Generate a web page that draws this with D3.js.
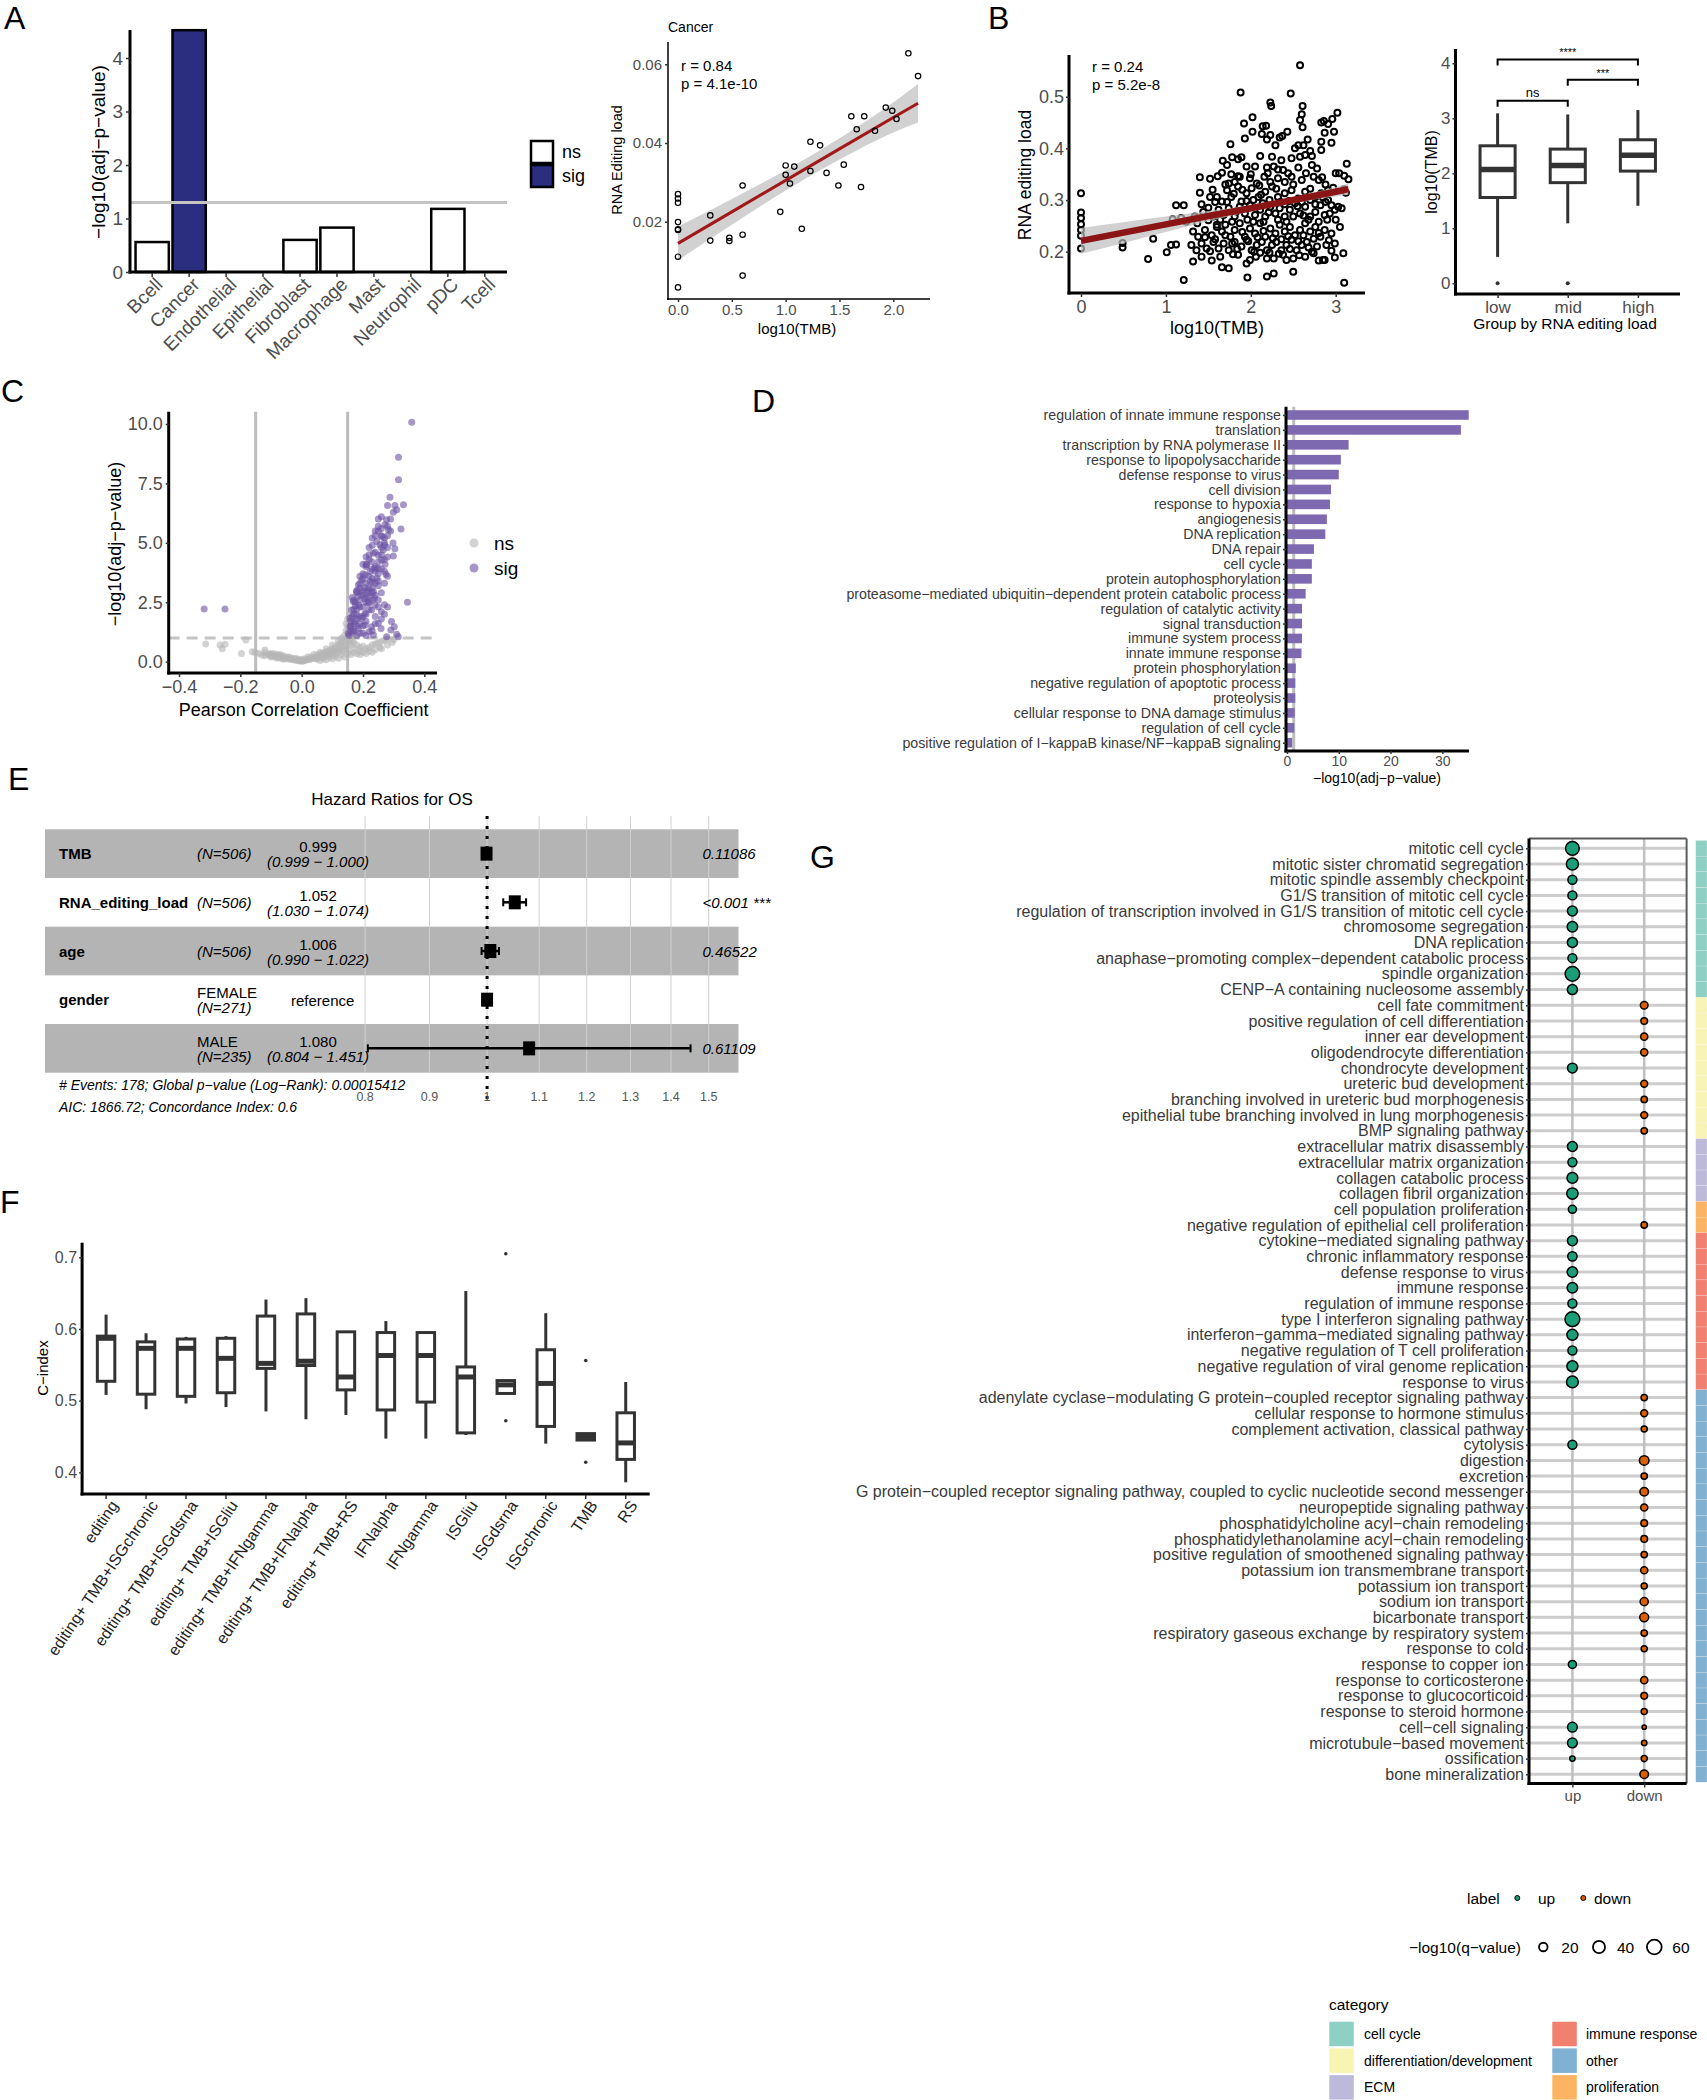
<!DOCTYPE html>
<html>
<head>
<meta charset="utf-8">
<script src="https://cdn.jsdelivr.net/npm/d3@7"></script>
<style>
  body { margin: 0; background: #fff; }
  svg { font-family: "Liberation Sans", Arial, Helvetica, sans-serif; }
</style>
</head>
<body>
<div id="fig"></div>
<script>
// ---------------- data ----------------
// A: cell type association
const cellTypes = ["Bcell", "Cancer", "Endothelial", "Epithelial", "Fibroblast", "Macrophage", "Mast", "Neutrophil", "pDC", "Tcell"];
const cellNegLogP = [0.56, 4.52, 0, 0, 0.60, 0.83, 0, 0, 1.18, 0];
const cellSig = ["ns", "sig", "ns", "ns", "ns", "ns", "ns", "ns", "ns", "ns"];
const cellThreshold = 1.3;

// A: cancer scatter  [log10(TMB), RNA editing load]
const cancerPts = [[2.14,0.0628],[2.23,0.0570],[1.93,0.0490],[1.99,0.0482],[2.03,0.0461],[1.61,0.0468],[1.73,0.0468],
  [1.66,0.0435],[1.83,0.0431],[1.23,0.0403],[1.32,0.0394],[1.00,0.0343],[1.08,0.0340],[1.54,0.0345],[1.00,0.0319],
  [1.23,0.0329],[1.38,0.0324],[1.04,0.0297],[1.49,0.0292],[1.70,0.0288],[0.60,0.0292],[0.95,0.0225],[1.15,0.0182],
  [0.30,0.0216],[0.30,0.0152],[0.477,0.0159],[0.477,0.0151],[0.60,0.0167],[0.60,0.0063],[0,0.0270],[0,0.0259],
  [0,0.0248],[0,0.0199],[0,0.0181],[0,0.0179],[0,0.0111],[0,0.0033]];
const cancerFitX = [0, 0.5, 1.0, 1.5, 2.0, 2.23];
const cancerFitY = [0.0145, 0.0225, 0.0305, 0.0385, 0.0465, 0.0501];
const cancerFitSE = [0.0043, 0.0033, 0.0026, 0.0027, 0.0038, 0.0049];

// B: TCGA scatter [log10(TMB), RNA editing load]
const tcgaPts = [[2.58,0.561],[1.88,0.508],[2.47,0.506],[2.23,0.489],[2.24,0.482],[2.61,0.482],[2.60,0.466],[2.58,0.455],
  [2.61,0.441],[3.02,0.469],[2.96,0.457],[2.91,0.447],[2.86,0.453],[2.83,0.450],[2.02,0.460],[1.92,0.448],[2.14,0.443],
  [2.18,0.444],[2.13,0.428],[2.02,0.432],[1.93,0.419],[2.43,0.432],[2.37,0.424],[2.34,0.421],[2.23,0.426],[2.19,0.417],
  [2.29,0.406],[2.67,0.417],[2.56,0.406],[2.52,0.400],[2.62,0.406],[2.70,0.395],[2.64,0.387],[2.72,0.385],[2.58,0.384],
  [2.83,0.413],[2.87,0.430],[2.98,0.432],[2.83,0.397],[2.95,0.411],[1.76,0.408],[1.67,0.376],[1.78,0.383],[1.85,0.379],
  [1.89,0.383],[2.11,0.385],[2.25,0.384],[2.36,0.377],[2.48,0.381],[1.72,0.368],[1.66,0.353],[1.77,0.350],[1.85,0.346],
  [1.95,0.365],[2.05,0.365],[2.19,0.363],[2.27,0.365],[2.32,0.359],[2.38,0.358],[2.56,0.363],[2.72,0.368],[2.78,0.361],
  [3.13,0.370],[3.04,0.352],[3.10,0.347],[3.15,0.340],[3.00,0.352],[1.40,0.344],[1.52,0.341],[1.61,0.346],[1.74,0.332],
  [1.81,0.335],[1.87,0.345],[1.99,0.342],[2.07,0.332],[2.16,0.345],[2.23,0.335],[2.32,0.342],[2.40,0.335],[2.48,0.345],
  [2.60,0.339],[2.74,0.345],[2.80,0.339],[2.84,0.344],[2.97,0.324],[2.91,0.319],[3.10,0.321],[3.12,0.314],
  [1.40,0.314],[1.42,0.292],[1.52,0.306],[1.60,0.306],[1.66,0.297],[1.72,0.319],[1.77,0.306],[1.85,0.326],[1.89,0.297],
  [1.95,0.313],[2.01,0.323],[2.09,0.306],[2.17,0.316],[2.25,0.326],[2.32,0.306],[2.40,0.313],[2.48,0.319],[2.56,0.303],
  [2.64,0.316],[2.70,0.300],[2.76,0.306],[2.83,0.313],[2.91,0.300],[2.95,0.290],[3.03,0.287],
  [1.34,0.268],[1.37,0.255],[1.44,0.277],[1.50,0.261],[1.56,0.268],[1.62,0.281],[1.68,0.271],[1.74,0.284],[1.81,0.268],
  [1.87,0.287],[1.93,0.274],[1.99,0.290],[2.05,0.271],[2.11,0.281],[2.17,0.268],[2.23,0.287],[2.29,0.274],[2.34,0.284],
  [2.40,0.268],[2.46,0.281],[2.52,0.294],[2.58,0.274],[2.64,0.287],[2.70,0.268],[2.76,0.277],[2.82,0.290],[2.87,0.271],
  [2.93,0.274],[2.99,0.281],[3.07,0.284],
  [1.32,0.239],[1.38,0.229],[1.46,0.242],[1.54,0.232],[1.60,0.248],[1.66,0.239],[1.70,0.252],[1.76,0.229],[1.81,0.242],
  [1.87,0.255],[1.93,0.229],[1.99,0.245],[2.05,0.235],[2.11,0.255],[2.17,0.229],[2.23,0.245],[2.29,0.235],[2.34,0.252],
  [2.40,0.239],[2.46,0.248],[2.52,0.232],[2.58,0.242],[2.64,0.255],[2.70,0.239],[2.76,0.248],[2.82,0.229],[2.87,0.242],
  [2.95,0.235],[3.05,0.248],
  [1.30,0.213],[1.36,0.203],[1.42,0.216],[1.48,0.206],[1.56,0.219],[1.62,0.206],[1.68,0.216],[1.74,0.203],[1.81,0.219],
  [1.89,0.210],[1.95,0.223],[2.01,0.203],[2.07,0.213],[2.13,0.219],[2.19,0.203],[2.25,0.213],[2.30,0.219],[2.36,0.203],
  [2.42,0.213],[2.48,0.223],[2.54,0.203],[2.60,0.213],[2.66,0.219],[2.72,0.200],[2.78,0.210],[2.89,0.213],[2.99,0.216],
  [1.32,0.181],[1.42,0.190],[1.54,0.183],[1.64,0.190],[1.79,0.195],[1.85,0.194],[1.95,0.177],[1.99,0.184],[2.11,0.198],
  [2.19,0.187],[2.27,0.187],[2.38,0.194],[2.42,0.184],[2.50,0.187],[2.64,0.190],[2.74,0.197],[2.80,0.183],[2.87,0.184],
  [2.99,0.189],[3.09,0.197],[1.66,0.170],[1.74,0.168],[1.96,0.150],[2.19,0.152],[2.27,0.158],[2.50,0.161],[2.85,0.184],
  [1.21,0.145],[3.10,0.140],
  [0,0.313],[0,0.276],[0,0.265],[0,0.253],[0,0.242],[0,0.231],[0,0.206],[0.49,0.217],[0.49,0.208],[0.79,0.186],
  [0.85,0.225],[1.01,0.199],[1.06,0.213],[1.12,0.214],[1.08,0.263],[1.12,0.290],[1.21,0.290],[1.18,0.265],[1.24,0.258],
  [1.70,0.330],[1.90,0.320],[2.10,0.328],[2.30,0.322],[2.50,0.330],[2.70,0.322],[2.88,0.330],
  [1.64,0.262],[1.83,0.278],[2.03,0.258],[2.21,0.276],[2.42,0.258],[2.62,0.270],[2.80,0.258],[3.00,0.262],
  [1.58,0.224],[1.78,0.216],[1.97,0.220],[2.15,0.240],[2.36,0.224],[2.56,0.220],[2.74,0.225],[2.92,0.222],
  [1.72,0.296],[1.95,0.298],[2.14,0.294],[2.35,0.296],[2.55,0.288],[2.76,0.292],[1.50,0.285],[1.46,0.228],[1.52,0.201],
  [2.06,0.190],[2.33,0.196],[2.57,0.193],[2.95,0.202],[2.00,0.350],[2.20,0.352],[2.44,0.352],[2.65,0.352],[1.55,0.320],
  [2.12,0.310],[2.45,0.298],[2.85,0.305],
  [1.58,0.296],[1.80,0.312],[2.03,0.300],[2.22,0.300],[2.40,0.292],[2.60,0.296],[2.88,0.296],[1.60,0.252],[1.78,0.258],
  [1.96,0.262],[2.15,0.258],[2.32,0.262],[2.50,0.268],[2.68,0.262],[2.90,0.262],[1.70,0.232],[1.90,0.238],[2.08,0.228],
  [2.26,0.226],[2.44,0.230],[2.62,0.232],[2.80,0.236],[1.84,0.205],[2.04,0.200],[2.22,0.198],[2.46,0.205],[2.68,0.208]];
const tcgaFitX = [0, 0.5, 1, 1.5, 2, 2.5, 3, 3.15];
const tcgaFitY = [0.221, 0.237, 0.253, 0.269, 0.284, 0.300, 0.316, 0.321];
const tcgaFitSE = [0.025, 0.020, 0.015, 0.010, 0.006, 0.006, 0.009, 0.011];

// B: boxplot by editing-load group (log10 TMB)
const loadGroups = ["low", "mid", "high"];
const grpMin = [0.48, 1.09, 1.41];
const grpQ1 = [1.56, 1.83, 2.04];
const grpMed = [2.07, 2.14, 2.33];
const grpQ3 = [2.50, 2.44, 2.61];
const grpMax = [3.09, 3.07, 3.15];
const grpOutliers = [[0], [0], []];
const bracketPairs = [["low", "mid"], ["mid", "high"], ["low", "high"]];
const bracketY = [3.32, 3.70, 4.07];
const bracketLabels = ["ns", "***", "****"];

// C: volcano [pearson r, -log10 adj p]
const volcanoSig = [[0.359,10.07],[0.316,8.6],[0.316,7.65],[0.288,6.92],[0.280,6.57],[0.304,6.57],[0.332,6.6],[0.310,6.39],
  [0.299,6.29],[0.277,5.97],[0.272,5.76],[0.283,5.55],[0.324,5.58],[0.25,5.5],[0.261,5.27],[0.245,5.06],[0.255,4.92],
  [0.266,4.7],[0.25,4.49],[0.234,4.56],[0.261,4.28],[0.298,4.99],[0.304,4.75],[0.299,4.45],[0.228,4.21],[0.212,4.07],
  [0.239,3.93],[0.223,3.79],[0.207,3.65],[0.25,3.93],[0.272,4.1],[0.275,3.68],[0.196,3.44],[0.185,3.23],[0.207,3.12],
  [0.179,2.95],[0.196,2.81],[0.217,2.74],[0.234,2.95],[0.223,3.37],[0.245,3.51],[0.168,2.53],[0.185,2.39],[0.163,2.18],
  [0.179,1.97],[0.158,1.83],[0.174,1.69],[0.196,1.83],[0.207,2.04],[0.228,2.18],[0.239,2.39],[0.217,2.46],[0.237,2.67],
  [0.158,1.47],[0.168,1.26],[0.152,1.19],[0.185,1.40],[0.207,1.54],[0.228,1.47],[0.25,1.62],[0.259,1.40],[0.234,1.12],
  [0.22,1.26],[0.293,1.69],[0.302,1.47],[0.291,1.33],[0.31,1.15],[0.315,1.05],[0.277,1.05],[0.345,2.5],[-0.318,2.22],
  [-0.25,2.22],[0.17,2.0],[0.18,2.2],[0.19,2.6],[0.2,2.9],[0.21,3.3],[0.22,3.6],[0.2,3.0],[0.18,1.8],[0.19,1.6],[0.2,1.9],
  [0.22,2.2],[0.24,2.8],[0.23,3.1],[0.25,3.7],[0.24,4.0],[0.26,4.5],[0.27,5.0],[0.26,5.3],[0.23,2.6],[0.21,2.5],[0.19,2.3],
  [0.17,1.6],[0.16,1.3],[0.18,1.1],[0.2,1.2],[0.21,1.7],[0.24,1.9],[0.26,2.1],[0.27,2.4],[0.25,2.3],[0.22,2.9],[0.25,3.2],
  [0.27,3.8],[0.28,4.4],[0.23,3.9],[0.22,4.3],[0.24,4.6],[0.27,4.9],[0.28,5.3],[0.29,6.0],[0.26,5.6],[0.21,4.0],[0.2,3.5],
  [0.165,2.7],[0.175,2.35],[0.185,2.75],[0.19,3.1],[0.205,2.65],[0.215,3.0],[0.23,3.35],
  [0.155,1.1],[0.16,1.5],[0.165,1.9],[0.17,2.2],[0.175,2.5],[0.18,2.9],[0.19,3.3],[0.2,3.7],[0.21,4.1],[0.22,4.5],
  [0.23,4.9],[0.24,5.3],[0.25,5.7],[0.26,6.1],[0.17,1.3],[0.18,1.5],[0.19,1.9],[0.2,2.3],[0.21,2.7],[0.22,3.1],[0.23,3.5],
  [0.24,3.8],[0.25,4.2],[0.26,4.8],[0.27,5.2],[0.28,5.7],[0.19,1.2],[0.2,1.5],[0.21,2.0],[0.22,2.5],[0.23,2.9],[0.24,3.3],
  [0.25,3.4],[0.26,3.9],[0.27,4.3],[0.28,4.8],[0.29,5.5],[0.16,1.7],[0.17,2.6],[0.18,3.0],[0.19,3.6],[0.2,4.1],[0.21,4.4],
  [0.22,4.8],[0.23,5.2],[0.24,5.5],[0.25,6.0],[0.21,1.1],[0.23,1.3],[0.24,1.6],[0.26,1.8],[0.27,2.0],[0.28,2.3],[0.25,2.6],
  [0.26,2.9],[0.27,3.3],[0.28,3.6]];
const volcanoNs = [[-0.313,0.74],[-0.266,0.70],[-0.259,0.55],[-0.25,0.73],[-0.182,0.91],[-0.196,0.35],[-0.161,0.42],
  [-0.152,0.39],[-0.14,0.35],[-0.13,0.28],[-0.12,0.49],[-0.11,0.30],[-0.10,0.26],[-0.095,0.22],[-0.09,0.28],[-0.085,0.20],
  [-0.08,0.24],[-0.075,0.18],[-0.07,0.22],[-0.065,0.15],[-0.06,0.19],[-0.055,0.13],[-0.05,0.16],[-0.045,0.11],[-0.04,0.14],
  [-0.035,0.09],[-0.03,0.11],[-0.025,0.07],[-0.02,0.08],[-0.015,0.05],[-0.01,0.04],[-0.005,0.03],[0,0.02],[0.005,0.03],
  [0.01,0.05],[0.015,0.07],[0.02,0.10],[0.025,0.08],[0.03,0.14],[0.035,0.12],[0.04,0.18],[0.045,0.15],[0.05,0.22],
  [0.055,0.19],[0.06,0.27],[0.065,0.23],[0.07,0.31],[0.075,0.28],[0.08,0.36],[0.085,0.32],[0.09,0.42],[0.095,0.37],
  [0.10,0.48],[0.105,0.42],[0.11,0.55],[0.115,0.48],[0.12,0.62],[0.125,0.54],[0.13,0.72],[0.135,0.62],[0.14,0.85],
  [0.145,0.70],[0.15,1.0],[0.155,0.80],[0.16,1.2],[0.165,0.9],[0.17,0.8],[0.18,0.7],[0.19,0.6],[0.2,0.65],[0.21,0.55],
  [0.22,0.6],[0.23,0.7],[0.24,0.75],[0.25,0.8],[0.26,0.85],[0.27,0.9],[0.255,0.6],[0.3,0.92],[0.28,0.95],[0.295,0.82],
  [0.05,0.1],[0.07,0.18],[0.09,0.25],[0.11,0.35],[0.13,0.45],[0.15,0.55],[0.17,0.55],[0.19,0.45],[0.14,1.1],[0.15,1.5],
  [0.155,1.9],[0.145,1.3],[0.16,1.6],[0.13,1.0],[0.12,0.85],[0.1,0.7],[0.08,0.55],[0.06,0.4],[0.04,0.3],[0.02,0.2],
  [0.0,0.1],[-0.02,0.15],[-0.04,0.2],[-0.06,0.25],[-0.08,0.3],[-0.1,0.35],[-0.105,0.32],[-0.12,0.38],[-0.07,0.3],
  [0.06,0.05],[0.08,0.08],[0.1,0.12],[0.12,0.15],[0.14,0.2],[0.16,0.3],[0.18,0.35],[0.2,0.4],[0.22,0.45],[0.24,0.5],
  [0.26,0.55],[0.28,0.7],[0.07,0.12],[0.09,0.18],[0.11,0.22],[0.13,0.3],[0.15,0.35],[0.17,0.4],[0.19,0.3],[0.21,0.35],
  [0.23,0.4],[0.1,0.3],[0.12,0.4],[0.14,0.5],[0.16,0.7],[0.155,1.05],[0.15,1.25],[0.14,0.95],[0.13,0.85],[0.12,0.72],
  [0.11,0.62],[0.1,0.55],[0.09,0.48],[0.08,0.42],[0.07,0.36],[0.06,0.32],[0.05,0.28],[0.03,0.2],[0.01,0.12],[-0.01,0.1],
  [-0.03,0.15],[-0.05,0.2],[-0.07,0.25],[-0.09,0.33],[-0.06,0.1],[-0.08,0.15],[-0.1,0.2],[-0.12,0.25],[0.145,1.6],
  [0.15,1.8],[0.155,1.4],[0.16,1.0],[0.17,1.1],[0.165,1.3]];

// D: GO enrichment bars
const goTermsD = ["regulation of innate immune response", "translation", "transcription by RNA polymerase II",
  "response to lipopolysaccharide", "defense response to virus", "cell division", "response to hypoxia", "angiogenesis",
  "DNA replication", "DNA repair", "cell cycle", "protein autophosphorylation",
  "proteasome−mediated ubiquitin−dependent protein catabolic process", "regulation of catalytic activity",
  "signal transduction", "immune system process", "innate immune response", "protein phosphorylation",
  "negative regulation of apoptotic process", "proteolysis", "cellular response to DNA damage stimulus",
  "regulation of cell cycle", "positive regulation of I−kappaB kinase/NF−kappaB signaling"];
const goNegLogD = [35.1, 33.6, 11.9, 10.4, 10.0, 8.5, 8.3, 7.7, 7.4, 5.2, 4.8, 4.8, 3.6, 2.9, 2.9, 2.9, 2.8, 1.7, 1.6, 1.6, 1.5, 1.4, 1.0];

// E: Cox model
const hrVar = ["TMB", "RNA_editing_load", "age", "gender", ""];
const hrLevel = ["", "", "", "FEMALE", "MALE"];
const hrN = [506, 506, 506, 271, 235];
const hrEst = [0.999, 1.052, 1.006, 1, 1.080];
const hrLo = [0.999, 1.030, 0.990, null, 0.804];
const hrHi = [1.000, 1.074, 1.022, null, 1.451];
const hrP = ["0.11086", "<0.001 ***", "0.46522", "", "0.61109"];
const hrTicks = [0.8, 0.9, 1, 1.1, 1.2, 1.3, 1.4, 1.5];

// F: C-index boxplots
const models = ["editing", "editing+ TMB+ISGchronic", "editing+ TMB+ISGdsrna", "editing+ TMB+ISGliu",
  "editing+ TMB+IFNgamma", "editing+ TMB+IFNalpha", "editing+ TMB+RS", "IFNalpha", "IFNgamma", "ISGliu",
  "ISGdsrna", "ISGchronic", "TMB", "RS"];
const cMin = [0.508, 0.488, 0.496, 0.491, 0.485, 0.474, 0.480, 0.447, 0.447, 0.452, 0.510, 0.440, 0.445, 0.386];
const cQ1  = [0.527, 0.509, 0.506, 0.511, 0.545, 0.549, 0.515, 0.487, 0.498, 0.455, 0.510, 0.464, 0.445, 0.418];
const cMed = [0.587, 0.573, 0.573, 0.559, 0.552, 0.555, 0.533, 0.563, 0.563, 0.533, 0.522, 0.524, 0.450, 0.441];
const cQ3  = [0.590, 0.582, 0.586, 0.587, 0.618, 0.621, 0.596, 0.595, 0.595, 0.547, 0.528, 0.571, 0.454, 0.483];
const cMax = [0.620, 0.594, 0.589, 0.590, 0.641, 0.643, 0.596, 0.611, 0.595, 0.653, 0.528, 0.622, 0.454, 0.526];
const cOut = [[], [], [], [], [], [], [], [], [], [], [0.705, 0.472], [], [0.556, 0.414], []];

// G: GO terms up / down
const goCellCycle = ["mitotic cell cycle", "mitotic sister chromatid segregation", "mitotic spindle assembly checkpoint",
  "G1/S transition of mitotic cell cycle", "regulation of transcription involved in G1/S transition of mitotic cell cycle",
  "chromosome segregation", "DNA replication", "anaphase−promoting complex−dependent catabolic process",
  "spindle organization", "CENP−A containing nucleosome assembly"];
const goDiff = ["cell fate commitment", "positive regulation of cell differentiation", "inner ear development",
  "oligodendrocyte differentiation", "chondrocyte development", "ureteric bud development",
  "branching involved in ureteric bud morphogenesis", "epithelial tube branching involved in lung morphogenesis",
  "BMP signaling pathway"];
const goECM = ["extracellular matrix disassembly", "extracellular matrix organization", "collagen catabolic process",
  "collagen fibril organization"];
const goProlif = ["cell population proliferation", "negative regulation of epithelial cell proliferation"];
const goImmune = ["cytokine−mediated signaling pathway", "chronic inflammatory response", "defense response to virus",
  "immune response", "regulation of immune response", "type I interferon signaling pathway",
  "interferon−gamma−mediated signaling pathway", "negative regulation of T cell proliferation",
  "negative regulation of viral genome replication", "response to virus"];
const goOther = ["adenylate cyclase−modulating G protein−coupled receptor signaling pathway",
  "cellular response to hormone stimulus", "complement activation, classical pathway", "cytolysis", "digestion",
  "excretion", "G protein−coupled receptor signaling pathway, coupled to cyclic nucleotide second messenger",
  "neuropeptide signaling pathway", "phosphatidylcholine acyl−chain remodeling",
  "phosphatidylethanolamine acyl−chain remodeling", "positive regulation of smoothened signaling pathway",
  "potassium ion transmembrane transport", "potassium ion transport", "sodium ion transport", "bicarbonate transport",
  "respiratory gaseous exchange by respiratory system", "response to cold", "response to copper ion",
  "response to corticosterone", "response to glucocorticoid", "response to steroid hormone", "cell−cell signaling",
  "microtubule−based movement", "ossification", "bone mineralization"];
const goUp = [52, 40, 22, 22, 27, 30, 28, 22, 58, 28,
  null, null, null, null, 26, null, null, null, null,
  27, 22, 32, 35,
  18, null,
  27, 24, 30, 30, 22, 60, 33, 22, 33, 38,
  null, null, null, 22, null, null, null, null, null, null, null, null, null, null, null, null, null, 18, null, null, null, 26, 26, 8, null];
const goDown = [null, null, null, null, null, null, null, null, null, null,
  16, 12, 14, 14, null, 13, 11, 13, 11,
  null, null, null, null,
  null, 11,
  null, null, null, null, null, null, null, null, null, null,
  11, 13, 10, null, 25, 11, 20, 14, 12, 12, 11, 14, 10, 18, 22, 11, 10, null, 14, 12, 10, 5, 8, 10, 20];
const catNames = ["cell cycle", "differentiation/development", "ECM", "immune response", "other", "proliferation"];
const catColors = ["#8ed1c4", "#f8f4b4", "#bdb9da", "#f1806f", "#80b1d3", "#fdb462"];
const sizeBreaks = [20, 40, 60];

// ---------------- helpers ----------------
const GREY = "#4d4d4d";
const svg = d3.select("#fig").append("svg")
  .attr("width", 1707).attr("height", 2100)
  .style("background", "#fff");
svg.append("rect").attr("width", 1707).attr("height", 2100).attr("fill", "#fff");

function txt(g, x, y, s, o = {}) {
  const t = g.append("text").attr("x", x).attr("y", y).text(s)
    .attr("font-size", o.size || 14).attr("fill", o.fill || "#000")
    .attr("text-anchor", o.anchor || "start")
    .attr("dominant-baseline", "central");
  if (o.italic) t.attr("font-style", "italic");
  if (o.bold) t.attr("font-weight", "bold");
  if (o.rotate) t.attr("transform", `rotate(${o.rotate},${x},${y})`);
  return t;
}
function seg(g, x1, y1, x2, y2, stroke, w, dash) {
  const l = g.append("line").attr("x1", x1).attr("y1", y1).attr("x2", x2).attr("y2", y2)
    .attr("stroke", stroke).attr("stroke-width", w);
  if (dash) l.attr("stroke-dasharray", dash);
  return l;
}
function styleAxis(ax, size, fill = GREY) {
  ax.select(".domain").remove();
  ax.selectAll(".tick line").attr("stroke", "#333").attr("stroke-width", 1.5);
  ax.selectAll(".tick text").attr("font-size", size).attr("fill", fill)
    .attr("font-family", '"Liberation Sans", Arial, Helvetica, sans-serif');
}
function letter(x, y, s) { txt(svg, x, y, s, { size: 32 }); }

// ---------------- panel A: bars ----------------
letter(4, 18, "A");
{
  const g = svg.append("g");
  const x = d3.scalePoint().domain(cellTypes).range([130, 507]).padding(0.6);
  const y = d3.scaleLinear().domain([0, 4]).range([272, 58]);
  const bw = x.step() * 0.9;
  g.selectAll("rect.bar").data(cellTypes).join("rect")
    .attr("x", d => x(d) - bw / 2).attr("width", bw)
    .attr("y", (d, i) => y(cellNegLogP[i]))
    .attr("height", (d, i) => y(0) - y(cellNegLogP[i]))
    .attr("fill", (d, i) => cellSig[i] === "sig" ? "#2b2d7e" : "#fff")
    .attr("stroke", "#000").attr("stroke-width", 2.5);
  seg(g, 130, y(cellThreshold), 507, y(cellThreshold), "#c4c4c4", 3);
  seg(g, 130, 30, 130, 273.5, "#000", 3);
  seg(g, 128.5, 272, 507, 272, "#000", 3);
  const ay = g.append("g").attr("transform", "translate(130,0)")
    .call(d3.axisLeft(y).tickValues([0, 1, 2, 3, 4]).tickFormat(d3.format("d")).tickSize(4).tickPadding(3));
  styleAxis(ay, 19);
  g.selectAll("text.xl").data(cellTypes).join("text")
    .attr("transform", d => `translate(${x(d) + 2},${276}) rotate(-45)`)
    .attr("text-anchor", "end").attr("dy", "0.72em")
    .attr("font-size", 19).attr("fill", GREY).text(d => d);
  g.selectAll("line.xt").data(cellTypes).join("line")
    .attr("x1", d => x(d)).attr("x2", d => x(d)).attr("y1", 273).attr("y2", 277)
    .attr("stroke", "#333").attr("stroke-width", 1.5);
  txt(g, 98, 152, "−log10(adj−p−value)", { size: 19, anchor: "middle", rotate: -90 });
  // legend
  ["ns", "sig"].forEach((k, i) => {
    g.append("rect").attr("x", 531).attr("y", 141 + i * 24).attr("width", 22).attr("height", 22)
      .attr("fill", k === "sig" ? "#2b2d7e" : "#fff").attr("stroke", "#000").attr("stroke-width", 2.5);
    txt(g, 562, 152 + i * 24, k, { size: 18 });
  });
}

// ---------------- panel A: cancer scatter ----------------
{
  const g = svg.append("g");
  const x = d3.scaleLinear().domain([0, 2]).range([678, 893.3]);
  const y = d3.scaleLinear().domain([0.02, 0.06]).range([221.7, 64.3]);
  const band = d3.area().x((d, i) => x(cancerFitX[i]))
    .y0((d, i) => y(cancerFitY[i] - cancerFitSE[i])).y1((d, i) => y(cancerFitY[i] + cancerFitSE[i]))
    .curve(d3.curveMonotoneX);
  g.append("path").datum(cancerFitX).attr("d", band).attr("fill", "#c9c9c9").attr("opacity", 0.85);
  g.append("path").datum(cancerFitX)
    .attr("d", d3.line().x((d, i) => x(cancerFitX[i])).y((d, i) => y(cancerFitY[i])))
    .attr("fill", "none").attr("stroke", "#a01818").attr("stroke-width", 3);
  g.selectAll("circle").data(cancerPts).join("circle")
    .attr("cx", d => x(d[0])).attr("cy", d => y(d[1])).attr("r", 2.7)
    .attr("fill", "none").attr("stroke", "#000").attr("stroke-width", 1.2);
  seg(g, 668, 42, 668, 300, "#000", 1.5);
  seg(g, 667, 299, 930, 299, "#000", 1.5);
  const ay = g.append("g").attr("transform", "translate(668,0)")
    .call(d3.axisLeft(y).tickValues([0.02, 0.04, 0.06]).tickFormat(d3.format(".2f")).tickSize(3).tickPadding(3));
  styleAxis(ay, 15);
  const ax = g.append("g").attr("transform", "translate(0,299)")
    .call(d3.axisBottom(x).tickValues([0, 0.5, 1, 1.5, 2]).tickFormat(d3.format(".1f")).tickSize(3).tickPadding(2));
  styleAxis(ax, 15);
  txt(g, 668, 27, "Cancer", { size: 14 });
  txt(g, 681, 65, "r = 0.84", { size: 15 });
  txt(g, 681, 83, "p = 4.1e-10", { size: 15 });
  txt(g, 617, 160, "RNA Editing load", { size: 14.5, anchor: "middle", rotate: -90 });
  txt(g, 797, 328, "log10(TMB)", { size: 15, anchor: "middle" });
}

// ---------------- panel B: TCGA scatter ----------------
letter(988, 18, "B");
{
  const g = svg.append("g");
  const x = d3.scaleLinear().domain([0, 3]).range([1081, 1335.7]);
  const y = d3.scaleLinear().domain([0.2, 0.5]).range([251.7, 96.7]);
  g.selectAll("circle").data(tcgaPts).join("circle")
    .attr("cx", d => x(d[0])).attr("cy", d => y(d[1])).attr("r", 3)
    .attr("fill", "none").attr("stroke", "#000").attr("stroke-width", 2);
  const band = d3.area().x((d, i) => x(tcgaFitX[i]))
    .y0((d, i) => y(tcgaFitY[i] - tcgaFitSE[i])).y1((d, i) => y(tcgaFitY[i] + tcgaFitSE[i]))
    .curve(d3.curveMonotoneX);
  g.append("path").datum(tcgaFitX).attr("d", band).attr("fill", "#bdbdbd").attr("opacity", 0.7);
  g.append("path").datum(tcgaFitX)
    .attr("d", d3.line().x((d, i) => x(tcgaFitX[i])).y((d, i) => y(tcgaFitY[i])))
    .attr("fill", "none").attr("stroke", "#8b1515").attr("stroke-width", 6.5);
  seg(g, 1069, 55, 1069, 294.5, "#000", 3);
  seg(g, 1067.5, 293, 1365, 293, "#000", 3);
  const ay = g.append("g").attr("transform", "translate(1069,0)")
    .call(d3.axisLeft(y).tickValues([0.2, 0.3, 0.4, 0.5]).tickFormat(d3.format(".1f")).tickSize(3).tickPadding(2));
  styleAxis(ay, 18);
  const ax = g.append("g").attr("transform", "translate(0,293)")
    .call(d3.axisBottom(x).tickValues([0, 1, 2, 3]).tickFormat(d3.format("d")).tickSize(4).tickPadding(3));
  styleAxis(ax, 18);
  txt(g, 1092, 66, "r = 0.24", { size: 15 });
  txt(g, 1092, 84, "p = 5.2e-8", { size: 15 });
  txt(g, 1025, 175, "RNA editing load", { size: 17.5, anchor: "middle", rotate: -90 });
  txt(g, 1217, 328, "log10(TMB)", { size: 18, anchor: "middle" });
}

// ---------------- panel B: boxplot ----------------
{
  const g = svg.append("g");
  const x0 = 1455.5, x1 = 1680;
  const x = d3.scalePoint().domain(loadGroups).range([x0, x1]).padding(0.6);
  const y = d3.scaleLinear().domain([0, 4]).range([283.3, 63.3]);
  const bw = x.step() * 0.5;
  loadGroups.forEach((k, i) => {
    const cx = x(k);
    seg(g, cx, y(grpMax[i]), cx, y(grpQ3[i]), "#333", 3);
    seg(g, cx, y(grpQ1[i]), cx, y(grpMin[i]), "#333", 3);
    g.append("rect").attr("x", cx - bw / 2).attr("width", bw)
      .attr("y", y(grpQ3[i])).attr("height", y(grpQ1[i]) - y(grpQ3[i]))
      .attr("fill", "#fff").attr("stroke", "#333").attr("stroke-width", 3);
    seg(g, cx - bw / 2, y(grpMed[i]), cx + bw / 2, y(grpMed[i]), "#333", 5.5);
    grpOutliers[i].forEach(v => g.append("circle").attr("cx", cx).attr("cy", y(v)).attr("r", 2).attr("fill", "#333"));
  });
  bracketPairs.forEach((p, i) => {
    const xa = x(p[0]), xb = x(p[1]), yy = y(bracketY[i]);
    g.append("path").attr("d", `M${xa},${yy + 6}V${yy}H${xb}V${yy + 6}`)
      .attr("fill", "none").attr("stroke", "#000").attr("stroke-width", 2);
    txt(g, (xa + xb) / 2, yy - (bracketLabels[i] === "ns" ? 8 : 7), bracketLabels[i],
      { size: bracketLabels[i] === "ns" ? 13 : 11, anchor: "middle" });
  });
  seg(g, x0, 49, x0, 295.5, "#000", 3);
  seg(g, x0 - 1.5, 294, x1, 294, "#000", 3);
  const ay = g.append("g").attr("transform", `translate(${x0},0)`)
    .call(d3.axisLeft(y).tickValues([0, 1, 2, 3, 4]).tickFormat(d3.format("d")).tickSize(3).tickPadding(2));
  styleAxis(ay, 17);
  const ax = g.append("g").attr("transform", "translate(0,294)")
    .call(d3.axisBottom(x).tickSize(4).tickPadding(3));
  styleAxis(ax, 17);
  txt(g, 1431, 172, "log10(TMB)", { size: 16, anchor: "middle", rotate: -90 });
  txt(g, 1565, 323, "Group by RNA editing load", { size: 15.5, anchor: "middle" });
}

// ---------------- panel C: volcano ----------------
letter(1, 391, "C");
{
  const g = svg.append("g");
  const x = d3.scaleLinear().domain([-0.4, 0.4]).range([179, 424.3]);
  const y = d3.scaleLinear().domain([0, 10]).range([661.7, 424]);
  [-0.15, 0.15].forEach(v => seg(g, x(v), 411.7, x(v), 672, "#bdbdbd", 3));
  seg(g, 168.7, y(1), 437, y(1), "#c4c4c4", 3, "11,7");
  g.selectAll("circle.ns").data(volcanoNs).join("circle").attr("class", "ns")
    .attr("cx", d => x(d[0])).attr("cy", d => y(d[1])).attr("r", 3.5)
    .attr("fill", "#b5b5b5").attr("opacity", 0.6);
  g.selectAll("circle.sig").data(volcanoSig).join("circle").attr("class", "sig")
    .attr("cx", d => x(d[0])).attr("cy", d => y(d[1])).attr("r", 3.5)
    .attr("fill", "#6a51a3").attr("opacity", 0.6);
  seg(g, 168.7, 411.7, 168.7, 674.5, "#000", 3);
  seg(g, 167.2, 673, 437, 673, "#000", 3);
  const ay = g.append("g").attr("transform", "translate(168.7,0)")
    .call(d3.axisLeft(y).tickValues([0, 2.5, 5, 7.5, 10]).tickFormat(d3.format(".1f")).tickSize(3).tickPadding(3));
  styleAxis(ay, 18);
  const ax = g.append("g").attr("transform", "translate(0,673)")
    .call(d3.axisBottom(x).tickValues([-0.4, -0.2, 0, 0.2, 0.4]).tickFormat(d3.format(".1f")).tickSize(4).tickPadding(3));
  styleAxis(ax, 18);
  txt(g, 115, 544, "−log10(adj−p−value)", { size: 18, anchor: "middle", rotate: -90 });
  txt(g, 303.6, 710, "Pearson Correlation Coefficient", { size: 18, anchor: "middle" });
  g.append("circle").attr("cx", 474).attr("cy", 543).attr("r", 4.5).attr("fill", "#b5b5b5").attr("opacity", 0.6);
  g.append("circle").attr("cx", 474).attr("cy", 568).attr("r", 4.5).attr("fill", "#6a51a3").attr("opacity", 0.6);
  txt(g, 494, 543, "ns", { size: 19 });
  txt(g, 494, 568, "sig", { size: 19 });
}

// ---------------- panel D: GO bars ----------------
letter(752, 401, "D");
{
  const g = svg.append("g");
  const x = d3.scaleLinear().domain([0, 30]).range([1287, 1442.3]);
  const y = d3.scalePoint().domain(goTermsD).range([415, 742.7]);
  seg(g, x(1.3), 406.7, x(1.3), 751, "#bdbdbd", 3);
  g.selectAll("rect").data(goTermsD).join("rect")
    .attr("x", x(0)).attr("y", d => y(d) - 4.8).attr("height", 9.6)
    .attr("width", (d, i) => x(goNegLogD[i]) - x(0)).attr("fill", "#7d69b0");
  seg(g, 1286, 406.7, 1286, 752.5, "#000", 3);
  seg(g, 1284.5, 751, 1469, 751, "#000", 3);
  const ay = g.append("g").attr("transform", "translate(1286,0)")
    .call(d3.axisLeft(y).tickSize(3).tickPadding(2));
  styleAxis(ay, 14.2, "#3a3a3a");
  const ax = g.append("g").attr("transform", "translate(0,751)")
    .call(d3.axisBottom(x).tickValues([0, 10, 20, 30]).tickSize(3).tickPadding(2));
  styleAxis(ax, 14);
  txt(g, 1377, 778, "−log10(adj−p−value)", { size: 14, anchor: "middle" });
}

// ---------------- panel E: forest plot ----------------
letter(8, 779, "E");
{
  const g = svg.append("g");
  const x = d3.scaleLog().domain([0.8, 1.5]).range([365.1, 708.7]);
  const rows = d3.range(hrVar.length);
  const y = d3.scaleBand().domain(rows).range([829.3, 1072.7]);
  txt(g, 392, 799, "Hazard Ratios for OS", { size: 17, anchor: "middle" });
  g.selectAll("rect.band").data(rows.filter(i => i % 2 === 0)).join("rect")
    .attr("x", 45).attr("width", 693.5).attr("y", i => y(i)).attr("height", y.bandwidth())
    .attr("fill", "#b4b4b4");
  hrTicks.forEach(t => seg(g, x(t), 816, x(t), 1073, "#d0d0d0", 1));
  seg(g, x(1), 816, x(1), 1101, "#000", 3, "3,7");
  hrTicks.forEach(t => txt(g, x(t), 1097, String(t), { size: 12.5, anchor: "middle", fill: "#555" }));
  rows.forEach(i => {
    const cy = y(i) + y.bandwidth() / 2;
    if (hrVar[i]) txt(g, 59, cy, hrVar[i], { size: 15, bold: true });
    if (hrLevel[i]) {
      txt(g, 197, cy - 7, hrLevel[i], { size: 15 });
      txt(g, 197, cy + 8, `(N=${hrN[i]})`, { size: 15, italic: true });
    } else {
      txt(g, 197, cy, `(N=${hrN[i]})`, { size: 15, italic: true });
    }
    if (hrLo[i] === null) {
      txt(g, 291, cy + 1, "reference", { size: 15 });
    } else {
      const f = d3.format(".3f");
      txt(g, 318, cy - 7, f(hrEst[i]), { size: 15, anchor: "middle" });
      txt(g, 318, cy + 8, `(${f(hrLo[i])} − ${f(hrHi[i])})`, { size: 15, anchor: "middle", italic: true });
      seg(g, x(hrLo[i]), cy, x(hrHi[i]), cy, "#000", 2.5);
      seg(g, x(hrLo[i]), cy - 4, x(hrLo[i]), cy + 4, "#000", 2);
      seg(g, x(hrHi[i]), cy - 4, x(hrHi[i]), cy + 4, "#000", 2);
    }
    g.append("rect").attr("x", x(hrEst[i]) - 6).attr("y", cy - 7).attr("width", 12).attr("height", 14).attr("fill", "#000");
    if (hrP[i]) txt(g, 702.5, cy, hrP[i], { size: 15, italic: true });
  });
  txt(g, 59, 1085, "# Events: 178; Global p−value (Log−Rank): 0.00015412", { size: 14, italic: true });
  txt(g, 59, 1107, "AIC: 1866.72; Concordance Index: 0.6", { size: 14, italic: true });
}

// ---------------- panel F: C-index ----------------
letter(0, 1202, "F");
{
  const g = svg.append("g");
  const x = d3.scalePoint().domain(models).range([82.1, 649.7]).padding(0.6);
  const y = d3.scaleLinear().domain([0.4, 0.7]).range([1472.3, 1257.3]);
  const bw = 17.5;
  models.forEach((m, i) => {
    const cx = x(m);
    if (cMax[i] > cQ3[i]) seg(g, cx, y(cMax[i]), cx, y(cQ3[i]), "#333", 3);
    if (cMin[i] < cQ1[i]) seg(g, cx, y(cQ1[i]), cx, y(cMin[i]), "#333", 3);
    g.append("rect").attr("x", cx - bw / 2).attr("width", bw)
      .attr("y", y(cQ3[i])).attr("height", Math.max(y(cQ1[i]) - y(cQ3[i]), 0.5))
      .attr("fill", "#fff").attr("stroke", "#333").attr("stroke-width", 3);
    seg(g, cx - bw / 2, y(cMed[i]), cx + bw / 2, y(cMed[i]), "#333", 5);
    cOut[i].forEach(v => g.append("circle").attr("cx", cx).attr("cy", y(v)).attr("r", 1.8).attr("fill", "#333"));
  });
  seg(g, 82.1, 1242.7, 82.1, 1495.5, "#000", 3);
  seg(g, 80.6, 1494, 649.7, 1494, "#000", 3);
  const ay = g.append("g").attr("transform", "translate(82.1,0)")
    .call(d3.axisLeft(y).tickValues([0.4, 0.5, 0.6, 0.7]).tickFormat(d3.format(".1f")).tickSize(3).tickPadding(2));
  styleAxis(ay, 16);
  g.selectAll("line.xt").data(models).join("line")
    .attr("x1", d => x(d)).attr("x2", d => x(d)).attr("y1", 1495).attr("y2", 1499)
    .attr("stroke", "#333").attr("stroke-width", 1.5);
  g.selectAll("text.xl").data(models).join("text")
    .attr("transform", d => `translate(${x(d) + 3},${1499}) rotate(-56)`)
    .attr("text-anchor", "end").attr("dy", "0.72em")
    .attr("font-size", 16).attr("fill", "#222").text(d => d);
  txt(g, 42, 1368, "C−index", { size: 15, anchor: "middle", rotate: -90 });
}

// ---------------- panel G: up/down GO dot plot ----------------
letter(810, 857, "G");
{
  const g = svg.append("g");
  const terms = [].concat(goCellCycle, goDiff, goECM, goProlif, goImmune, goOther);
  const cats = [].concat(goCellCycle.map(() => "cell cycle"), goDiff.map(() => "differentiation/development"),
    goECM.map(() => "ECM"), goProlif.map(() => "proliferation"), goImmune.map(() => "immune response"),
    goOther.map(() => "other"));
  const color = d3.scaleOrdinal().domain(catNames).range(catColors);
  const y = d3.scalePoint().domain(terms).range([848.3, 1774.3]);
  const x = d3.scalePoint().domain(["up", "down"]).range([1572.4, 1644.2]);
  const r = d3.scaleSqrt().domain([0, 60]).range([0, 7.4]);
  const left = 1529, right = 1686.6, top = 838.5, bottom = 1783.5;
  terms.forEach(t => seg(g, left, y(t), right, y(t), "#cdcdcd", 3));
  ["up", "down"].forEach(k => seg(g, x(k), top, x(k), bottom, "#bfbfbf", 2.5));
  seg(g, left, top, right, top, "#5a5a5a", 2);
  seg(g, right, top, right, bottom, "#5a5a5a", 2);
  terms.forEach((t, i) => {
    if (goUp[i] !== null) g.append("circle").attr("cx", x("up")).attr("cy", y(t)).attr("r", r(goUp[i]))
      .attr("fill", "#1b9e77").attr("stroke", "#000").attr("stroke-width", 1.5);
    if (goDown[i] !== null) g.append("circle").attr("cx", x("down")).attr("cy", y(t)).attr("r", r(goDown[i]))
      .attr("fill", "#d95f02").attr("stroke", "#000").attr("stroke-width", 1.5);
  });
  seg(g, left, top, left, bottom + 1.5, "#000", 3);
  seg(g, left - 1.5, bottom, right, bottom, "#000", 3);
  const ay = g.append("g").attr("transform", `translate(${left},0)`)
    .call(d3.axisLeft(y).tickSize(3).tickPadding(2));
  styleAxis(ay, 16, "#3a3a3a");
  const ax = g.append("g").attr("transform", `translate(0,${bottom})`)
    .call(d3.axisBottom(x).tickSize(4).tickPadding(3));
  styleAxis(ax, 15);
  const step = y.step();
  g.selectAll("rect.cat").data(terms).join("rect")
    .attr("x", 1695.7).attr("width", 11.3).attr("y", d => y(d) - step / 2).attr("height", step)
    .attr("fill", (d, i) => color(cats[i])).attr("stroke", "#fff").attr("stroke-width", 0.3).attr("stroke-opacity", 0.6);

  // legends
  txt(g, 1467, 1898, "label", { size: 15.5 });
  g.append("circle").attr("cx", 1517.3).attr("cy", 1898).attr("r", 2.5).attr("fill", "#1b9e77").attr("stroke", "#000").attr("stroke-width", 1);
  txt(g, 1538, 1898, "up", { size: 15.5 });
  g.append("circle").attr("cx", 1583.3).attr("cy", 1898).attr("r", 2.5).attr("fill", "#d95f02").attr("stroke", "#000").attr("stroke-width", 1);
  txt(g, 1594, 1898, "down", { size: 15.5 });
  txt(g, 1409, 1947, "−log10(q−value)", { size: 15.5 });
  const sizeX = [1543.3, 1599, 1654.3];
  sizeBreaks.forEach((b, i) => {
    g.append("circle").attr("cx", sizeX[i]).attr("cy", 1947).attr("r", r(b))
      .attr("fill", "none").attr("stroke", "#000").attr("stroke-width", 1.8);
    txt(g, sizeX[i] + 18, 1947, String(b), { size: 15.5 });
  });
  txt(g, 1329, 2004, "category", { size: 15.5 });
  catNames.forEach((c, i) => {
    const col = Math.floor(i / 3), row = i % 3;
    const kx = col === 0 ? 1329.3 : 1552.3, ky = 2021.7 + row * 26.7;
    g.append("rect").attr("x", kx).attr("y", ky).attr("width", 24.5).attr("height", 24.5).attr("fill", catColors[i]);
    txt(g, col === 0 ? 1364 : 1586, ky + 12.2, c, { size: 14 });
  });
}
</script>
</body>
</html>
